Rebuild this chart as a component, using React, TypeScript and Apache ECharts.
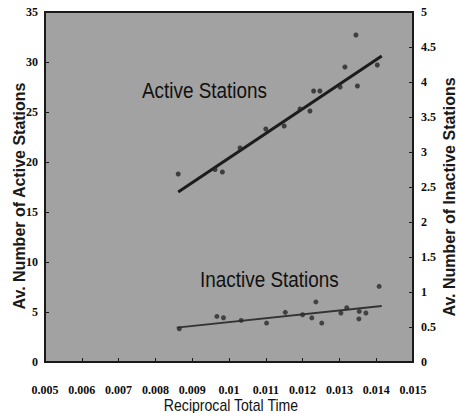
import React, { useEffect, useRef } from "react";
import * as echarts from "echarts";

const activeX = [0.00862, 0.00962, 0.00982, 0.0103, 0.011, 0.0115, 0.01193, 0.0122, 0.0123, 0.01247, 0.01302, 0.01315, 0.01345, 0.01349, 0.01403];
const activeY = [18.8, 19.25, 19.0, 21.4, 23.3, 23.6, 25.3, 25.1, 27.1, 27.1, 27.5, 29.5, 32.7, 27.6, 29.7];
const inactiveX = [0.00865, 0.00967, 0.00985, 0.01033, 0.01102, 0.01153, 0.012, 0.01225, 0.01236, 0.01252, 0.01304, 0.0132, 0.01353, 0.01354, 0.01372, 0.01408];
const inactiveY = [0.474, 0.651, 0.632, 0.594, 0.556, 0.709, 0.675, 0.63, 0.858, 0.556, 0.7, 0.775, 0.615, 0.723, 0.7, 1.08];
const activeFitX = [0.00862, 0.01415];
const activeFitY = [17.0, 30.6];
const inactiveFitX = [0.00858, 0.01415];
const inactiveFitY = [0.49, 0.8];

const tickFont = { fontFamily: "Liberation Serif, serif", fontWeight: "bold" as const, fontSize: 12, color: "#0d0d0d" };
const sans = "Liberation Sans, Arial, sans-serif";

export default function App() {
  const ref = useRef<HTMLDivElement>(null);
  useEffect(() => {
    if (!ref.current) return;
    const chart = echarts.init(ref.current, null, { renderer: "svg" });
    const pair = (xs: number[], ys: number[]) => xs.map((x, i) => [x, ys[i]]);
    const axisCommon = {
      axisLine: { show: true, lineStyle: { color: "#1a1a1a", width: 2 } },
      axisTick: { show: true, inside: true, length: 4, lineStyle: { color: "#1a1a1a" } },
      splitLine: { show: false },
    };
    chart.setOption({
      animation: false,
      backgroundColor: "#ffffff",
      grid: {
        left: 45, right: 43, top: 12, bottom: 51,
        show: true, backgroundColor: "#a2a2a2", borderColor: "#1a1a1a", borderWidth: 2,
      },
      xAxis: {
        type: "value", min: 0.005, max: 0.015, interval: 0.001, ...axisCommon,
        axisLabel: { ...tickFont, margin: 22, formatter: (v: number) => String(parseFloat(v.toFixed(3))) },
      },
      yAxis: [
        {
          type: "value", min: 0, max: 35, interval: 5, ...axisCommon,
          axisLabel: { ...tickFont, margin: 7 },
        },
        {
          type: "value", min: 0, max: 5, interval: 0.5, position: "right", ...axisCommon,
          axisLabel: { ...tickFont, margin: 8 },
        },
      ],
      series: [
        {
          type: "line", data: pair(activeFitX, activeFitY), showSymbol: false, symbol: "none",
          lineStyle: { color: "#1c1c1c", width: 3 }, z: 3,
        },
        {
          type: "scatter", data: pair(activeX, activeY), symbol: "circle", symbolSize: 5,
          itemStyle: { color: "#262626" }, z: 4,
        },
        {
          type: "line", yAxisIndex: 1, data: pair(inactiveFitX, inactiveFitY), showSymbol: false, symbol: "none",
          lineStyle: { color: "#333333", width: 1.8 }, z: 3,
        },
        {
          type: "scatter", yAxisIndex: 1, data: pair(inactiveX, inactiveY), symbol: "circle", symbolSize: 5,
          itemStyle: { color: "#2a2a2a" }, z: 4,
        },
      ],
      graphic: [
        {
          type: "text", x: 142, y: 79, scaleX: 0.86,
          style: { text: "Active Stations", fontFamily: sans, fontSize: 22, fill: "#111" },
        },
        {
          type: "text", x: 200, y: 268, scaleX: 0.86,
          style: { text: "Inactive Stations", fontFamily: sans, fontSize: 22, fill: "#111" },
        },
        {
          type: "text", x: 231, y: 405, scaleX: 0.88,
          style: { text: "Reciprocal Total Time", fontFamily: sans, fontSize: 16, fill: "#111", align: "center", verticalAlign: "middle" },
        },
        {
          type: "text", x: 19, y: 196, rotation: Math.PI / 2,
          style: { text: "Av. Number of Active Stations", fontFamily: sans, fontWeight: "bold", fontSize: 16, fill: "#1a1a1a", align: "center", verticalAlign: "middle" },
        },
        {
          type: "text", x: 449, y: 197, rotation: Math.PI / 2,
          style: { text: "Av. Number of Inactive Stations", fontFamily: sans, fontWeight: "bold", fontSize: 16, fill: "#1a1a1a", align: "center", verticalAlign: "middle" },
        },
      ],
    });
    return () => chart.dispose();
  }, []);
  return <div ref={ref} style={{ position: "fixed", left: 0, top: 0, width: 456, height: 413 }} />;
}
